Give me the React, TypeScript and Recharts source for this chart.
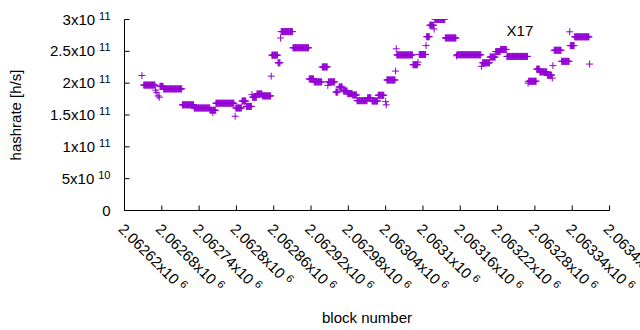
import React from 'react';
import { ScatterChart, Scatter, XAxis, YAxis, ReferenceDot } from 'recharts';

// runs of consecutive blocks sharing one hashrate estimate (GH/s = 1e9 h/s)
const runStart = [
  2062648, 2062651, 2062670, 2062672, 2062674, 2062676, 2062677, 2062683, 2062713, 2062732,
  2062758, 2062762, 2062763, 2062767, 2062798, 2062799, 2062809, 2062816, 2062825, 2062826,
  2062833, 2062842, 2062856, 2062857, 2062867, 2062871, 2062872, 2062891, 2062917, 2062925,
  2062938, 2062947, 2062948, 2062960, 2062965, 2062972, 2062979, 2062987, 2062994, 2063011,
  2063018, 2063028, 2063040, 2063041, 2063042, 2063056, 2063057, 2063058, 2063084, 2063092,
  2063094, 2063105, 2063106, 2063111, 2063118, 2063119, 2063136, 2063154, 2063155, 2063194,
  2063196, 2063208, 2063217, 2063225, 2063235, 2063269, 2063270, 2063283, 2063288, 2063300,
  2063308, 2063309, 2063311, 2063323, 2063336, 2063337, 2063344, 2063368,
];
const runEnd = [
  2062648, 2062669, 2062670, 2062672, 2062674, 2062676, 2062682, 2062712, 2062731, 2062757,
  2062761, 2062762, 2062766, 2062796, 2062798, 2062808, 2062815, 2062824, 2062825, 2062832,
  2062841, 2062855, 2062856, 2062866, 2062870, 2062871, 2062890, 2062916, 2062924, 2062937,
  2062946, 2062947, 2062958, 2062963, 2062970, 2062978, 2062986, 2062993, 2063010, 2063016,
  2063027, 2063037, 2063040, 2063041, 2063055, 2063056, 2063057, 2063083, 2063091, 2063092,
  2063104, 2063105, 2063110, 2063117, 2063118, 2063135, 2063153, 2063154, 2063193, 2063194,
  2063207, 2063216, 2063224, 2063234, 2063268, 2063269, 2063282, 2063287, 2063299, 2063307,
  2063308, 2063309, 2063322, 2063335, 2063336, 2063343, 2063367, 2063368,
];
const runHashrateGH = [
  212, 197, 189, 185, 180, 178, 195, 191, 166, 161,
  157.5, 154, 157.5, 168.5, 148, 161, 172, 163.5, 182, 178,
  183, 180, 211, 244, 232, 271, 281, 255.6, 206.6, 202,
  225.5, 196.6, 202, 186, 194, 187.7, 183.5, 181.4, 172.5, 177,
  172, 181, 171, 166, 205, 219, 254, 244.4, 229, 233,
  245, 259, 273, 291, 285, 300, 271, 243, 244.6, 226.5,
  232, 241, 249.6, 253, 242, 200, 203, 222, 217.7, 212.6,
  208, 227.6, 251.7, 234.3, 280.7, 259, 272.8, 230,
];

const xTicks = [
  2062620, 2062680, 2062740, 2062800, 2062860, 2062920, 2062980,
  2063040, 2063100, 2063160, 2063220, 2063280, 2063340, 2063400,
];
const yTicks = [0, 5e10, 1e11, 1.5e11, 2e11, 2.5e11, 3e11];

const annotationBlock = 2063256;
const annotationHashrate = 2.82e11;

const points: { block: number; hashrate: number }[] = [];
runStart.forEach((start, i) => {
  for (let b = start; b <= runEnd[i]; b++) {
    points.push({ block: b, hashrate: runHashrateGH[i] * 1e9 });
  }
});

const FONT = '"Liberation Sans", Arial, sans-serif';
const PURPLE = '#9400d3';

const sci = (v: number): [string, string] | null => {
  if (v === 0) return null;
  const e = Math.floor(Math.log10(v));
  const m = parseFloat((v / Math.pow(10, e)).toFixed(6));
  return [String(m), String(e)];
};

const XTick = ({ x, y, payload }: any) => {
  const s = sci(payload.value);
  return (
    <g>
      <line x1={x} y1={y} x2={x} y2={y - 5} stroke="#000" />
      <g transform={`translate(${x - 3.5},${y + 16}) rotate(45)`}>
        <text x={0} y={5} fontSize={15} fontFamily={FONT} fill="#000">
          {s ? s[0] + 'x10' : '0'}
          {s && <tspan dx={4} dy={-5} fontSize={11}>{s[1]}</tspan>}
        </text>
      </g>
    </g>
  );
};

const YTick = ({ x, y, payload }: any) => {
  const s = sci(payload.value);
  return (
    <g>
      <line x1={x} y1={y} x2={x + 5} y2={y} stroke="#000" />
      <text x={x - 14} y={y + 5} textAnchor="end" fontSize={15} fontFamily={FONT} fill="#000">
        {s ? s[0] + 'x10' : '0'}
        {s && <tspan dx={4} dy={-5} fontSize={11}>{s[1]}</tspan>}
      </text>
    </g>
  );
};

const TopTick = ({ x, y }: any) => <line x1={x} y1={y} x2={x} y2={y + 5} stroke="#000" />;
const RightTick = ({ x, y }: any) => <line x1={x} y1={y} x2={x - 5} y2={y} stroke="#000" />;

const XTitle = ({ viewBox }: any) => (
  <text x={viewBox.x + viewBox.width / 2} y={323} textAnchor="middle" fontSize={15} fontFamily={FONT} fill="#000">
    block number
  </text>
);

const YTitle = ({ viewBox }: any) => {
  const cy = viewBox.y + viewBox.height / 2;
  return (
    <text x={21} y={cy} transform={`rotate(-90, 21, ${cy})`} textAnchor="middle" fontSize={15} fontFamily={FONT} fill="#000">
      hashrate [h/s]
    </text>
  );
};

const Plus = ({ cx, cy }: any) => (
  <path d={`M${cx - 3.5},${cy}h7M${cx},${cy - 3.5}v7`} stroke={PURPLE} strokeWidth={1} fill="none" />
);

export default function App() {
  return (
    <div style={{ position: 'absolute', left: 0, top: 0, width: 640, height: 330, background: '#fff' }}>
      <ScatterChart width={640} height={330} margin={{ top: 19.5, right: 30.5, bottom: 0, left: 0 }}>
        <XAxis
          dataKey="block"
          type="number"
          domain={[xTicks[0], xTicks[xTicks.length - 1]]}
          ticks={xTicks}
          interval={0}
          height={119.5}
          tickSize={0}
          tickMargin={0}
          tickLine={false}
          tick={<XTick />}
          stroke="#000"
          allowDataOverflow
          label={{ content: <XTitle /> }}
        />
        <XAxis
          xAxisId="top"
          orientation="top"
          type="number"
          domain={[xTicks[0], xTicks[xTicks.length - 1]]}
          ticks={xTicks}
          interval={0}
          height={0}
          tickSize={0}
          tickMargin={0}
          tickLine={false}
          tick={<TopTick />}
          stroke="#000"
        />
        <YAxis
          dataKey="hashrate"
          type="number"
          domain={[0, 3e11]}
          ticks={yTicks}
          interval={0}
          width={124.5}
          tickSize={0}
          tickMargin={0}
          tickLine={false}
          tick={<YTick />}
          stroke="#000"
          allowDataOverflow
          label={{ content: <YTitle /> }}
        />
        <YAxis
          yAxisId="right"
          orientation="right"
          type="number"
          domain={[0, 3e11]}
          ticks={yTicks}
          interval={0}
          width={0}
          tickSize={0}
          tickMargin={0}
          tickLine={false}
          tick={<RightTick />}
          stroke="#000"
        />
        <Scatter data={points} shape={<Plus />} isAnimationActive={false} />
        <ReferenceDot
          x={annotationBlock}
          y={annotationHashrate}
          r={0}
          shape={(p: any) => (
            <text x={p.cx} y={p.cy + 5} textAnchor="middle" fontSize={15} fontFamily={FONT} fill="#000">
              X17
            </text>
          )}
        />
      </ScatterChart>
    </div>
  );
}
